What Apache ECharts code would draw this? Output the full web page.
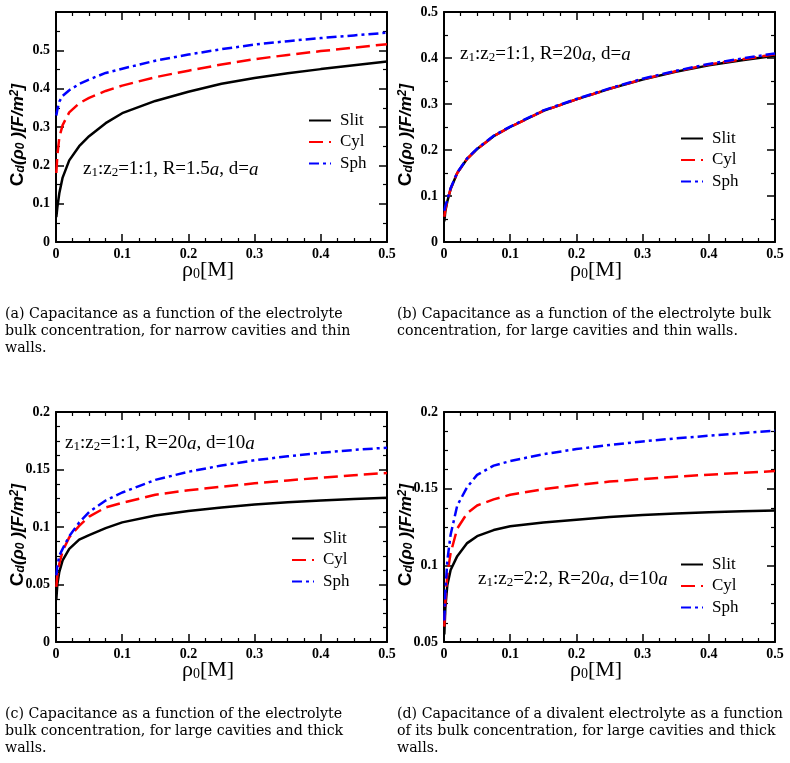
<!DOCTYPE html>
<html>
<head>
<meta charset="utf-8">
<script src="https://cdn.jsdelivr.net/npm/echarts@6/dist/echarts.min.js"></script>
<style>
html, body { margin: 0; padding: 0; background: #fff; }
#main { width: 790px; height: 763px; }
</style>
</head>
<body>
<div id="main"></div>
<script>
// bulk concentration rho0 [M]
var rho = [0.0005, 0.002, 0.005, 0.01, 0.02, 0.035, 0.05, 0.075, 0.1, 0.15, 0.2, 0.25, 0.3, 0.35, 0.4, 0.45, 0.5];

// (a) R=1.5a, d=a
var slitA = [0.065, 0.09, 0.127, 0.168, 0.213, 0.25, 0.276, 0.31, 0.336, 0.368, 0.392, 0.413, 0.428, 0.44, 0.451, 0.461, 0.471];
var cylA = [0.18, 0.225, 0.273, 0.305, 0.338, 0.362, 0.376, 0.394, 0.408, 0.43, 0.447, 0.463, 0.477, 0.488, 0.498, 0.507, 0.516];
var sphA = [0.33, 0.345, 0.366, 0.381, 0.396, 0.412, 0.424, 0.441, 0.452, 0.473, 0.489, 0.503, 0.515, 0.524, 0.532, 0.539, 0.546];
// (b) R=20a, d=a
var slitB = [0.045, 0.067, 0.088, 0.115, 0.15, 0.181, 0.202, 0.23, 0.25, 0.285, 0.31, 0.333, 0.353, 0.37, 0.384, 0.395, 0.405];
var cylB = [0.055, 0.07, 0.089, 0.116, 0.15, 0.181, 0.202, 0.23, 0.25, 0.285, 0.31, 0.333, 0.354, 0.371, 0.386, 0.397, 0.408];
var sphB = [0.068, 0.078, 0.092, 0.117, 0.151, 0.182, 0.203, 0.231, 0.251, 0.286, 0.311, 0.334, 0.355, 0.372, 0.387, 0.399, 0.41];
// (c) R=20a, d=10a
var slitC = [0.037, 0.05, 0.061, 0.071, 0.081, 0.089, 0.093, 0.099, 0.104, 0.11, 0.114, 0.117, 0.1195, 0.1215, 0.123, 0.1243, 0.1255];
var cylC = [0.048, 0.058, 0.068, 0.079, 0.091, 0.101, 0.109, 0.117, 0.121, 0.128, 0.132, 0.135, 0.138, 0.1405, 0.1428, 0.145, 0.147];
var sphC = [0.058, 0.066, 0.075, 0.081, 0.092, 0.104, 0.113, 0.123, 0.13, 0.141, 0.148, 0.1535, 0.158, 0.1615, 0.1645, 0.167, 0.169];
// (d) 2:2, R=20a, d=10a
var slitD = [0.055, 0.072, 0.087, 0.097, 0.106, 0.1145, 0.119, 0.123, 0.1255, 0.128, 0.1298, 0.1315, 0.1328, 0.1338, 0.1346, 0.1352, 0.1358];
var cylD = [0.06, 0.076, 0.094, 0.108, 0.124, 0.134, 0.139, 0.143, 0.146, 0.1497, 0.1524, 0.1546, 0.1563, 0.1578, 0.1591, 0.1603, 0.1615];
var sphD = [0.064, 0.082, 0.103, 0.12, 0.139, 0.151, 0.159, 0.165, 0.168, 0.1725, 0.1758, 0.1785, 0.1808, 0.1828, 0.1845, 0.1862, 0.1878];

var seriesNames = ["Slit", "Cyl", "Sph"];
var captions = [
    "(a) Capacitance as a function of the electrolyte\nbulk concentration, for narrow cavities and thin\nwalls.",
    "(b) Capacitance as a function of the electrolyte bulk\nconcentration, for large cavities and thin walls.",
    "(c) Capacitance as a function of the electrolyte\nbulk concentration, for large cavities and thick\nwalls.",
    "(d) Capacitance of a divalent electrolyte as a function\nof its bulk concentration, for large cavities and thick\nwalls."
];

var panels = [
    { left: 56, top: 12, ymin: 0, ymax: 0.6, step: 0.1, minor: 2, hideTop: true, data: [slitA, cylA, sphA],
      note: ["1:1", "1.5", "a"], noteX: 83, noteY: 168, legX: 308, legY: 112 },
    { left: 444, top: 12, ymin: 0, ymax: 0.5, step: 0.1, minor: 2, data: [slitB, cylB, sphB],
      note: ["1:1", "20", "a"], noteX: 460, noteY: 53, legX: 680, legY: 130 },
    { left: 56, top: 412, ymin: 0, ymax: 0.2, step: 0.05, minor: 4, data: [slitC, cylC, sphC],
      note: ["1:1", "20", "10a"], noteX: 65, noteY: 442, legX: 291, legY: 530 },
    { left: 444, top: 412, ymin: 0.05, ymax: 0.2, step: 0.05, minor: 4, data: [slitD, cylD, sphD],
      note: ["2:2", "20", "10a"], noteX: 478, noteY: 578, legX: 680, legY: 556 }
];
var W = 331, H = 230;
var serif = "Liberation Serif";
var lineStyles = [
    { color: "#000000", width: 2.5, type: "solid" },
    { color: "#ff0000", width: 2.5, type: [14, 6] },
    { color: "#0000ff", width: 2.5, type: [10, 4, 3, 4] }
];

function pairs(ys) {
    return rho.map(function (x, i) { return [x, ys[i]]; });
}

var grids = [], xAxes = [], yAxes = [], series = [], legends = [], graphics = [];
var noteRich = {
    n: { fontFamily: serif, fontSize: 19, color: "#000", lineHeight: 19 },
    i: { fontFamily: serif, fontSize: 19, fontStyle: "italic", color: "#000", lineHeight: 19 },
    s: { fontFamily: serif, fontSize: 13, color: "#000", lineHeight: 13, verticalAlign: "bottom", padding: [10, 0, 0, 0] }
};

panels.forEach(function (p, k) {
    grids.push({ left: p.left, top: p.top, width: W, height: H });
    var lineAx = { show: true, onZero: false, lineStyle: { color: "#000", width: 2 } };
    var tick = { show: true, inside: true, length: 8, lineStyle: { color: "#000", width: 1.5 } };
    var mtickX = { show: true, splitNumber: 4, length: 4, lineStyle: { color: "#000", width: 1.2 } };
    var mtickY = { show: true, splitNumber: p.minor, length: 4, lineStyle: { color: "#000", width: 1.2 } };
    xAxes.push({
        type: "value", gridIndex: k, min: 0, max: 0.5, interval: 0.1, position: "bottom",
        axisLine: lineAx, axisTick: tick, minorTick: mtickX, splitLine: { show: false },
        axisLabel: { margin: 5, color: "#000", fontFamily: serif, fontWeight: "bold", fontSize: 14 }
    });
    xAxes.push({
        type: "value", gridIndex: k, min: 0, max: 0.5, interval: 0.1, position: "top",
        axisLine: lineAx, axisTick: tick, minorTick: mtickX, splitLine: { show: false },
        axisLabel: { show: false }
    });
    yAxes.push({
        type: "value", gridIndex: k, min: p.ymin, max: p.ymax, interval: p.step, position: "left",
        axisLine: lineAx, axisTick: tick, minorTick: mtickY, splitLine: { show: false },
        axisLabel: {
            margin: 6, color: "#000", fontFamily: serif, fontWeight: "bold", fontSize: 14,
            formatter: function (v) { return (p.hideTop && v > 0.55) ? "" : String(+v.toFixed(2)); }
        }
    });
    yAxes.push({
        type: "value", gridIndex: k, min: p.ymin, max: p.ymax, interval: p.step, position: "right",
        axisLine: lineAx, axisTick: tick, minorTick: mtickY, splitLine: { show: false },
        axisLabel: { show: false }
    });
    p.data.forEach(function (ys, j) {
        series.push({
            type: "line", name: seriesNames[j], xAxisIndex: 2 * k, yAxisIndex: 2 * k,
            data: pairs(ys), symbol: "none", smooth: false,
            lineStyle: lineStyles[j], itemStyle: { color: lineStyles[j].color }, z: 3 + j
        });
    });
    legends.push({
        orient: "vertical", left: p.legX, top: p.legY, itemWidth: 22, itemHeight: 14, itemGap: 4.5,
        selectedMode: false, padding: 0, data: seriesNames, itemStyle: { opacity: 0 },
        textStyle: { fontFamily: serif, fontSize: 17, color: "#000", padding: [0, 0, 0, 4] }
    });
    // annotation z1:z2=..., R=..., d=...
    var d = p.note[2];
    var dText = d === "a" ? "{i|a}" : "{n|10}{i|a}";
    graphics.push({
        type: "text", left: p.noteX, top: p.noteY - 12,
        style: {
            text: "{n|z}{s|1}{n|:z}{s|2}{n|=" + p.note[0] + ", R=" + p.note[1] + "}{i|a}{n|, d=}" + dText,
            rich: noteRich
        }
    });
    // x axis title
    graphics.push({
        type: "text", left: p.left + 126, top: p.top + H + 13,
        style: {
            text: "{n|ρ}{s|0}{n|[M]}",
            rich: {
                n: { fontFamily: serif, fontSize: 22, color: "#000", lineHeight: 22 },
                s: { fontFamily: serif, fontSize: 14, color: "#000", lineHeight: 14, verticalAlign: "bottom", padding: [12, 0, 0, 0] }
            }
        }
    });
    // y axis title (rotated)
    graphics.push({
        type: "text", x: p.left - 38, y: p.top + 123, rotation: Math.PI / 2,
        style: {
            text: "{c|C}{s|d}{t|(ρ}{s|0}{t| )[F/m}{u|2}{t|]}",
            align: "center", verticalAlign: "middle",
            rich: {
                c: { fontFamily: "Liberation Sans", fontWeight: "bold", fontSize: 19, color: "#000", lineHeight: 18 },
                t: { fontFamily: "Liberation Sans", fontWeight: "bold", fontStyle: "italic", fontSize: 17, color: "#000", lineHeight: 18 },
                s: { fontFamily: "Liberation Sans", fontWeight: "bold", fontStyle: "italic", fontSize: 12, color: "#000", lineHeight: 12, verticalAlign: "bottom", padding: [9, 0, 0, 0] },
                u: { fontFamily: "Liberation Sans", fontWeight: "bold", fontStyle: "italic", fontSize: 12, color: "#000", lineHeight: 12, verticalAlign: "top", padding: [0, 0, 9, 0] }
            }
        }
    });
});

// sub-figure captions
var capPos = [[5, 306], [397, 306], [5, 706], [397, 706]];
captions.forEach(function (c, k) {
    graphics.push({
        type: "text", left: capPos[k][0], top: capPos[k][1],
        style: { text: c, fontFamily: "DejaVu Serif", fontSize: 14.2, lineHeight: 17, fill: "#000" }
    });
});

var chart = echarts.init(document.getElementById("main"), null, { renderer: "canvas" });
chart.setOption({
    animation: false,
    backgroundColor: "#fff",
    grid: grids,
    xAxis: xAxes,
    yAxis: yAxes,
    legend: legends,
    series: series,
    graphic: graphics
});
</script>
</body>
</html>
